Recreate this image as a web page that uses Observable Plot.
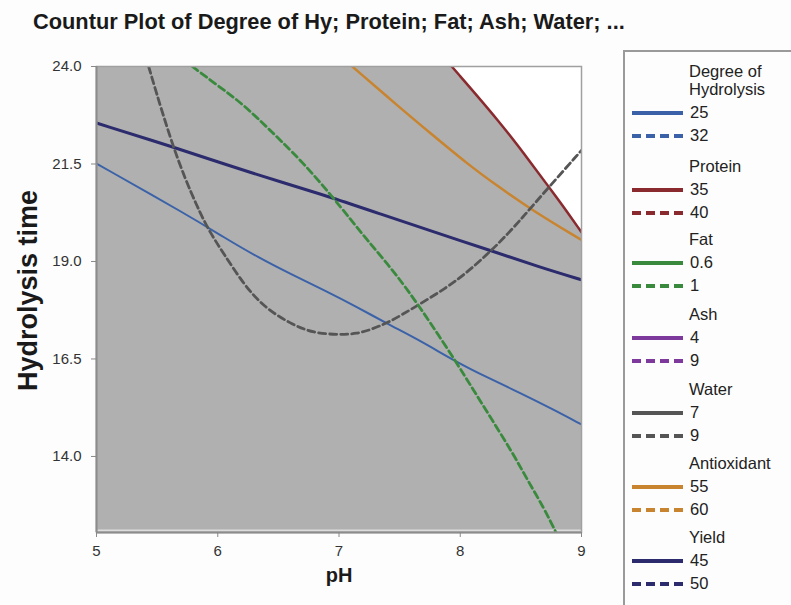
<!DOCTYPE html>
<html>
<head>
<meta charset="utf-8">
<script src="https://cdn.jsdelivr.net/npm/d3@7"></script>
<script src="https://cdn.jsdelivr.net/npm/@observablehq/plot@0.6"></script>
<style>
  html, body { margin: 0; padding: 0; background: #fdfdfd; }
  #wrap { position: relative; width: 791px; height: 605px; overflow: hidden; font-family: "Liberation Sans", Arial, sans-serif; }
  #title { position: absolute; left: 33px; top: 9px; font-size: 21.8px; font-weight: bold; color: #1a1a1a; white-space: nowrap; }
  #chart { position: absolute; left: 0; top: 0; }
  #legend { position: absolute; left: 623px; top: 50px; width: 200px; height: 600px; border: 2px solid #9a9a9a; box-sizing: border-box; background: #fdfdfd; }
  .lg-text { position: absolute; font-size: 16.5px; color: #222; white-space: nowrap; line-height: 1; }
  .lg-line { position: absolute; }
</style>
</head>
<body>
<div id="wrap">
  <div id="title">Countur Plot of Degree of Hy; Protein; Fat; Ash; Water; ...</div>
  <div id="chart"></div>
  <div id="legend"></div>
</div>
<script>
// ---- axes ----
const xDomain = [5, 9];
const yDomain = [12.05, 24];
const xTicks = [5, 6, 7, 8, 9];
const yTicks = [14.0, 16.5, 19.0, 21.5, 24.0];

// ---- contour lines: [pH, hydrolysis time] ----
const doh25 = [[5.0,21.51],[5.78,20.14],[6.05,19.62],[6.33,19.11],[6.6,18.68],[6.88,18.26],[7.15,17.83],[7.4,17.4],[7.67,16.97],[7.97,16.42],[8.22,16.03],[8.5,15.62],[8.77,15.2],[9.0,14.82]];
const yield45 = [[5.0,22.55],[5.64,21.93],[6.05,21.5],[6.57,20.99],[6.93,20.65],[7.34,20.22],[7.75,19.79],[8.25,19.28],[8.66,18.85],[9.0,18.53]];
const protein35 = [[7.93,24.0],[8.33,22.57],[8.6,21.46],[8.74,20.87],[8.83,20.5],[9.0,19.75]];
const antiox55 = [[7.11,24.0],[7.5,22.95],[7.75,22.3],[8.06,21.5],[8.3,20.95],[8.6,20.3],[9.0,19.55]];
const water9 = [[5.43,24.0],[5.64,21.8],[5.83,20.39],[5.94,19.72],[6.05,19.2],[6.21,18.43],[6.38,17.83],[6.6,17.4],[6.79,17.16],[7.01,17.12],[7.15,17.15],[7.26,17.25],[7.42,17.45],[7.62,17.82],[7.89,18.33],[8.06,18.73],[8.25,19.26],[8.39,19.7],[8.52,20.15],[8.63,20.55],[9.0,21.85]];
const fat1 = [[5.79,24.0],[6.0,23.51],[6.19,23.08],[6.38,22.52],[6.52,22.1],[6.71,21.51],[6.93,20.72],[7.09,20.1],[7.23,19.56],[7.4,18.94],[7.56,18.3],[7.75,17.45],[7.97,16.4],[8.11,15.7],[8.25,15.0],[8.44,14.05],[8.55,13.42],[8.69,12.68],[8.79,12.05]];

// ---- legend ----
const legendGroups = ["Degree of\nHydrolysis", "Protein", "Fat", "Ash", "Water", "Antioxidant", "Yield"];
const legendLevels = [["25","32"],["35","40"],["0.6","1"],["4","9"],["7","9"],["55","60"],["45","50"]];
const legendColors = ["#3b62a8", "#8a2a2e", "#3a8a3e", "#7d3a9c", "#555555", "#c8842e", "#2b2b6e"];

const colorOf = name => legendColors[legendGroups.indexOf(name)];
const px = d => d[0], py = d => d[1];
const crv = "basis";

const chart = Plot.plot({
  width: 600,
  height: 600,
  marginLeft: 96,
  marginTop: 66,
  marginRight: 19,
  marginBottom: 68,
  style: { fontFamily: "Liberation Sans, Arial, sans-serif", fontSize: "15px", color: "#333", background: "transparent", overflow: "visible" },
  x: { domain: xDomain },
  y: { domain: yDomain },
  marks: [
    Plot.frame({ fill: "#b0b0b0", stroke: null }),
    Plot.areaY(protein35, { x: px, y1: py, y2: () => yDomain[1], fill: "white", curve: crv, clip: true }),
    Plot.ruleY([yDomain[0]], { stroke: "#dcdcdc", strokeWidth: 2, dy: -2 }),
    Plot.line(doh25, { x: px, y: py, stroke: colorOf("Degree of\nHydrolysis"), strokeWidth: 2, curve: crv, clip: true }),
    Plot.line(yield45, { x: px, y: py, stroke: colorOf("Yield"), strokeWidth: 3, curve: crv, clip: true }),
    Plot.line(protein35, { x: px, y: py, stroke: colorOf("Protein"), strokeWidth: 2.5, curve: crv, clip: true }),
    Plot.line(antiox55, { x: px, y: py, stroke: colorOf("Antioxidant"), strokeWidth: 2.5, curve: crv, clip: true }),
    Plot.line(water9, { x: px, y: py, stroke: colorOf("Water"), strokeWidth: 2.8, strokeDasharray: "7,4", curve: crv, clip: true }),
    Plot.line(fat1, { x: px, y: py, stroke: colorOf("Fat"), strokeWidth: 2.8, strokeDasharray: "7,4", curve: crv, clip: true }),
    Plot.frame({ stroke: "#a0a0a0", strokeWidth: 1.5 }),
    Plot.ruleX([xDomain[0]], { stroke: "#8c8c8c", strokeWidth: 2 }),
    Plot.ruleY([yDomain[0]], { stroke: "#8c8c8c", strokeWidth: 2 }),
    Plot.axisX({ ticks: xTicks, tickFormat: d => String(d), tickSize: 5, tickPadding: 8, fontSize: 15, stroke: "#888", fill: "#333", label: null }),
    Plot.axisY({ ticks: yTicks, tickFormat: d => d.toFixed(1), tickSize: 5, tickPadding: 10, fontSize: 15, stroke: "#888", fill: "#333", label: null }),
    Plot.text(["Hydrolysis time"], { frameAnchor: "left", textAnchor: "middle", rotate: -90, dx: -68, dy: -9, fontSize: 27, fontWeight: "bold", fill: "#1a1a1a" }),
    Plot.text(["pH"], { frameAnchor: "bottom", textAnchor: "middle", dy: 49, fontSize: 20, fontWeight: "bold", fill: "#1a1a1a" })
  ]
});
document.getElementById("chart").appendChild(chart);

// legend build
const legend = document.getElementById("legend");
const offX = 623 + 2, offY = 50 + 2;
const headerY = [72, 167, 240, 315, 390, 464, 538];
function addText(str, x, yc) {
  const el = document.createElement("div");
  el.className = "lg-text";
  el.textContent = str;
  el.style.left = (x - offX) + "px";
  el.style.top = (yc - offY - 9) + "px";
  legend.appendChild(el);
}
function addLine(color, dashed, yc) {
  const ns = "http://www.w3.org/2000/svg";
  const s = document.createElementNS(ns, "svg");
  s.setAttribute("width", 52); s.setAttribute("height", 8);
  s.setAttribute("class", "lg-line");
  s.style.left = (632 - offX) + "px";
  s.style.top = (yc - 4 - offY) + "px";
  const l = document.createElementNS(ns, "line");
  l.setAttribute("x1", 0); l.setAttribute("x2", 51);
  l.setAttribute("y1", 4); l.setAttribute("y2", 4);
  l.setAttribute("stroke", color); l.setAttribute("stroke-width", 4);
  if (dashed) l.setAttribute("stroke-dasharray", "9,5");
  s.appendChild(l);
  legend.appendChild(s);
}
legendGroups.forEach((g, i) => {
  const lines = g.split("\n");
  let y = headerY[i];
  lines.forEach((t, k) => addText(t, 689, y + k * 18));
  const base = y + (lines.length - 1) * 18;
  addLine(legendColors[i], false, base + 23);
  addText(legendLevels[i][0], 690, base + 23);
  addLine(legendColors[i], true, base + 46);
  addText(legendLevels[i][1], 690, base + 46);
});
</script>
</body>
</html>
